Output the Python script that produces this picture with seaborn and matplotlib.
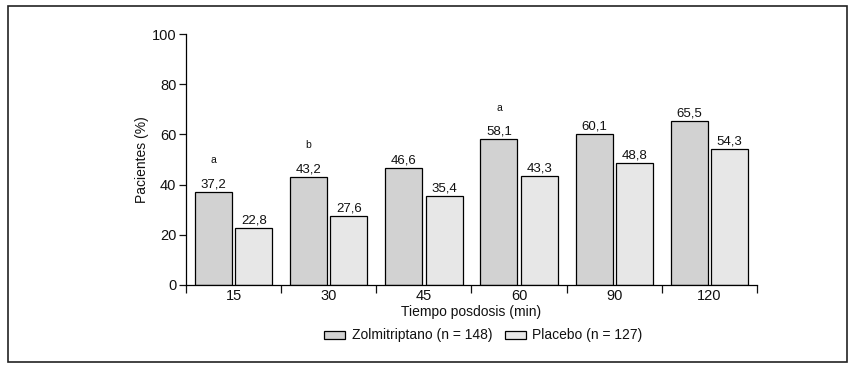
import pandas as pd
import seaborn as sns
import matplotlib.pyplot as plt
from matplotlib.patches import Rectangle

# data
tiempos = ["15", "30", "45", "60", "90", "120"]
zolmitriptano = [37.2, 43.2, 46.6, 58.1, 60.1, 65.5]
placebo = [22.8, 27.6, 35.4, 43.3, 48.8, 54.3]
signif = ["a", "b", "", "a", "", ""]
grupos = ["Zolmitriptano (n = 148)", "Placebo (n = 127)"]

df = pd.DataFrame({
    "tiempo": tiempos * 2,
    "grupo": [grupos[0]] * len(tiempos) + [grupos[1]] * len(tiempos),
    "pct": zolmitriptano + placebo,
})

sns.set_style("white")
plt.rcParams["font.family"] = ["Liberation Sans", "DejaVu Sans"]
plt.rcParams.update({"text.color": "#111111", "axes.labelcolor": "#111111",
                     "xtick.color": "#111111", "ytick.color": "#111111"})

fig = plt.figure(figsize=(8.53, 3.70), dpi=100)
ax = fig.add_axes([186 / 853, 85 / 370, (757 - 186) / 853, 251 / 370])

sns.barplot(data=df, x="tiempo", y="pct", hue="grupo", order=tiempos,
            hue_order=grupos, palette=["#d2d2d2", "#e7e7e7"],
            width=0.846, gap=0.083, edgecolor="black", linewidth=0.9,
            ax=ax)

for cont in ax.containers:
    ax.bar_label(cont, labels=[f"{v:.1f}".replace(".", ",") for v in cont.datavalues],
                 padding=1, fontsize=9.5)

for bar, s in zip(ax.containers[0], signif):
    if s:
        ax.annotate(s, (bar.get_x() + bar.get_width() / 2, bar.get_height()),
                    xytext=(0, 22.5), textcoords="offset points",
                    ha="center", va="center", fontsize=7.5)

ax.set_xlim(-0.5, len(tiempos) - 0.5)
ax.set_ylim(0, 100)
ax.set_yticks(range(0, 101, 20))
ax.set_xticks(range(len(tiempos)))
ax.set_xticks([i - 0.5 for i in range(len(tiempos) + 1)], minor=True)
ax.tick_params(axis="x", which="major", length=0, labelsize=10.5, pad=3)
ax.tick_params(axis="x", which="minor", length=5.5, width=0.9, direction="out", bottom=True)
ax.tick_params(axis="y", length=5, width=0.9, direction="out", left=True, labelsize=10.5, pad=2)

ax.set_xlabel("Tiempo posdosis (min)", fontsize=10, labelpad=1)
ax.set_ylabel("Pacientes (%)", fontsize=10, labelpad=2)

for side in ["top", "right"]:
    ax.spines[side].set_visible(False)
for side in ["left", "bottom"]:
    ax.spines[side].set_linewidth(0.9)
    ax.spines[side].set_color("black")

handles, labels = ax.get_legend_handles_labels()
ax.legend(handles, labels, loc="center", bbox_to_anchor=(483.5 / 853, 1 - 335.5 / 370),
          bbox_transform=fig.transFigure, ncol=2, frameon=False, fontsize=10,
          handlelength=1.5, handleheight=0.5, handletextpad=0.45, columnspacing=0.95)

fig.patches.append(Rectangle((8 / 853, 8 / 370), 839 / 853, 356 / 370,
                             transform=fig.transFigure, fill=False,
                             edgecolor="#222222", linewidth=1.2))

fig.savefig("out.png", dpi=100)
